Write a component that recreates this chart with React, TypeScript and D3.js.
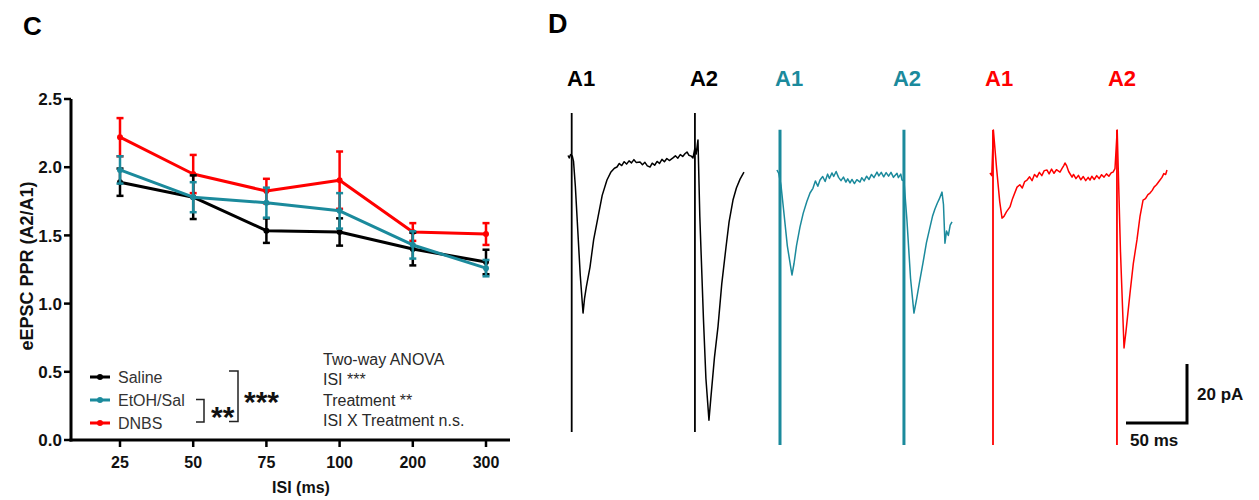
import React from "react";
import * as d3 from "d3";

// ---------- Panel C data ----------
const isiCategories = ["25", "50", "75", "100", "200", "300"];
const salineMean = [1.89, 1.78, 1.535, 1.525, 1.4, 1.305];
const salineSem = [0.1, 0.16, 0.09, 0.1, 0.12, 0.09];
const etohMean = [1.98, 1.78, 1.74, 1.68, 1.43, 1.26];
const etohSem = [0.1, 0.11, 0.11, 0.13, 0.1, 0.06];
const dnbsMean = [2.22, 1.95, 1.825, 1.905, 1.525, 1.51];
const dnbsSem = [0.14, 0.14, 0.09, 0.21, 0.065, 0.08];
const yTicks = [0, 0.5, 1.0, 1.5, 2.0, 2.5];
const groupNames = ["Saline", "EtOH/Sal", "DNBS"];
const anovaLines = ["Two-way ANOVA", "ISI ***", "Treatment **", "ISI X Treatment n.s."];

// ---------- Panel D data (t in ms from A1 stimulus, current in pA from baseline) ----------
const blackTrace: [number, number][] = [
  [-3, 0.5], [-2, -0.3], [-1, 0.8], [0.5, 0.3], [1.5, -1.5], [3, -10], [5, -25], [7, -40], [9.3, -52.9],
  [10.5, -48], [12, -44], [15, -37.3], [18, -28], [21.6, -20.3], [25, -13], [28.9, -7.8], [32, -5.2],
  [35, -3.8], [37.1, -3.4], [39, -2.2], [41, -2.9], [43, -1.6], [45, -2.4], [47, -1.3], [49, -2.0],
  [51, -0.9], [53, -1.9], [56, -1.7], [58, -2.6], [60, -1.8], [62, -3.0], [64.2, -3.4], [66, -2.1],
  [68, -2.8], [70, -1.5], [72, -2.2], [74, -0.8], [76, -1.6], [78, -0.5], [80, -1.2], [83, -0.3],
  [85, 0.4], [87, -0.4], [89, 0.8], [91, 0.2], [93, 1.2], [94.5, 1.7], [96, 0.6], [98, 0.3], [99.4, -0.3],
  [101, 3], [102, 1], [103.5, 5.8], [105, -20], [108, -55], [110, -75], [112.5, -89.2], [114, -82],
  [117, -68], [119.9, -57.6], [123, -43], [126.5, -30.5], [129, -22], [132.2, -14.6], [135, -10.5],
  [138, -7.5], [141.2, -5.1],
];
const tealTrace: [number, number][] = [
  [-2.5, 1.7], [-1, 0.5], [0.8, -3.4], [3, -12], [6, -24], [9.8, -33.9], [11.5, -30], [13.5, -24],
  [16.4, -17.6], [19, -13], [22, -9], [24.6, -6.1], [27, -4.5], [29, -2.0], [31, -3.8], [32.8, -1.7],
  [35, -0.5], [37, -2.2], [39, 0.3], [40.5, -1.2], [42.6, 0.7], [44, -0.5], [46, 1.2], [48, -0.8],
  [50, -1.9], [52, -0.7], [54, -2.4], [55.5, -1.3], [57.4, -2.7], [59, -1.5], [61, -2.9], [63, -1.6],
  [65.6, -2.4], [67, -0.9], [69, -2.0], [71, -0.4], [73, -1.5], [75, 0.2], [77, -0.9], [79.5, 1.0],
  [81, -0.3], [83, 0.9], [85, -0.6], [87, 0.8], [89, -0.4], [91, 0.9], [93, -0.8], [95.9, 0.6],
  [97, -0.9], [99, 0.3], [100, -1.7], [101.6, -2], [104, -15], [107, -35], [109.8, -46.8], [112, -42],
  [114.5, -36], [117.2, -29.8], [120, -23], [123, -17.6], [125, -14], [127, -11.5], [129, -9.5],
  [130.5, -8.2], [132.8, -5.8], [134, -10], [135.2, -23.1], [136.5, -19], [138, -20.5], [139.5, -17],
  [141, -15.9],
];
const redTrace: [number, number][] = [
  [-2.5, 1.7], [-1, 0.8], [0.3, 16.3], [3, 3], [5.5, -8], [7.4, -13.6], [9, -13], [11, -11.5],
  [13.9, -9.8], [16, -7], [19.7, -3.1], [22, -2.3], [24, -3.4], [26, -1.2], [27.9, -0.7], [30, 0.4],
  [32, -0.9], [34, 1.2], [36, 0.3], [38, 1.9], [40, 0.8], [42, 2.5], [44.3, 2.7], [46, 1.4], [48, 3.0],
  [50, 1.6], [52, 2.8], [54.9, 2.0], [56.5, 3.2], [58, 4.2], [59, 5.1], [60.5, 4.0], [62, 2.2],
  [64.8, 0.3], [66, 1.2], [68, -0.2], [70, 0.9], [72, -0.6], [74, 0.5], [76, -0.9], [78, 0.2],
  [79.5, -0.7], [81, 0.6], [83, -0.5], [85, 0.8], [87, -0.2], [89, 1.1], [91, 0.3], [93, 1.4],
  [95, 0.6], [97, 1.8], [98.4, 2.0], [100, 3.2], [101.8, 16.3], [104.5, -25], [107.4, -57.6],
  [109, -52], [112.3, -39], [115, -29], [118, -21], [120.5, -13], [123, -7.5], [125, -7.0], [127, -5.6],
  [128.7, -5.1], [130.5, -4.2], [132, -3.1], [134, -2.3], [136.9, -0.7], [138.5, 0.2], [140, 1.5],
  [141.5, 1.2], [142.6, 2.7],
];
const blackStims = [0, 101];
const tealStims = [0, 101.6];
const redStims = [0, 101.6];
const artifactRange = [
  [14.9, -93.2],
  [15.3, -91.5],
  [16.3, -90.5],
];
const stimLabels = ["A1", "A2"];
const scaleBarMs = 50;
const scaleBarPa = 20;

const TEAL = "#1b8a9c";
const RED = "#ff0000";
const FONT = "'Liberation Sans', Arial, sans-serif";

export default function App() {
  // Panel C scales
  const x = d3.scalePoint<string>().domain(isiCategories).range([120, 486]).padding(0);
  const y = d3.scaleLinear().domain([0, 2.5]).range([440, 99]);
  const axisX0 = 71;
  const axisX1 = 510;

  const groups = [
    { name: groupNames[2], mean: dnbsMean, sem: dnbsSem, color: RED },
    { name: groupNames[0], mean: salineMean, sem: salineSem, color: "#000" },
    { name: groupNames[1], mean: etohMean, sem: etohSem, color: TEAL },
  ];
  const legend = [
    { name: groupNames[0], color: "#000" },
    { name: groupNames[1], color: TEAL },
    { name: groupNames[2], color: RED },
  ];

  const line = d3
    .line<number>()
    .x((_, i) => x(isiCategories[i]) as number)
    .y((d) => y(d));

  // Panel D scales
  const tScale = d3.scaleLinear().domain([0, 50]).range([0, 61]);
  const iScale = d3.scaleLinear().domain([0, 20]).range([0, -59]);
  const traceLine = d3
    .line<[number, number]>()
    .x((d) => tScale(d[0]))
    .y((d) => iScale(d[1]));

  const traces = [
    { data: blackTrace, stims: blackStims, color: "#000", x0: 571.7, y0: 157, art: artifactRange[0], artW: 1.8, lab: [4.7, 5] },
    { data: tealTrace, stims: tealStims, color: TEAL, x0: 780, y0: 175, art: artifactRange[1], artW: 3, lab: [5, 11] },
    { data: redTrace, stims: redStims, color: RED, x0: 993, y0: 178, art: artifactRange[2], artW: 1.8, lab: [8, 9] },
  ];

  const sbX = 1187;
  const sbY = 423;

  return (
    <svg
      width={1259}
      height={500}
      style={{ position: "absolute", left: 0, top: 0, background: "#fff" }}
      fontFamily={FONT}
    >
      {/* Panel letters */}
      <text x={23} y={35} fontSize={26} fontWeight="bold" fill="#000">C</text>
      <text x={548} y={33} fontSize={27} fontWeight="bold" fill="#000">D</text>

      {/* Y axis */}
      <line x1={axisX0} x2={axisX0} y1={y(2.5)} y2={y(0) + 1.5} stroke="#000" strokeWidth={3} />
      {yTicks.map((t) => (
        <g key={t}>
          <line x1={axisX0 - 7} x2={axisX0} y1={y(t)} y2={y(t)} stroke="#000" strokeWidth={2.5} />
          <text x={62} y={y(t)} dy="0.36em" textAnchor="end" fontSize={17} fontWeight="bold" fill="#111">
            {t.toFixed(1)}
          </text>
        </g>
      ))}
      <text
        transform={`translate(33,266) rotate(-90)`}
        textAnchor="middle"
        fontSize={18}
        fontWeight="bold"
        fill="#111"
      >
        eEPSC PPR (A2/A1)
      </text>

      {/* X axis */}
      <line x1={axisX0 - 1.5} x2={axisX1} y1={y(0)} y2={y(0)} stroke="#000" strokeWidth={3} />
      {isiCategories.map((c) => (
        <g key={c}>
          <line x1={x(c)} x2={x(c)} y1={y(0)} y2={y(0) + 7} stroke="#000" strokeWidth={2.5} />
          <text x={x(c)} y={468} textAnchor="middle" fontSize={16} fontWeight="bold" fill="#111">
            {c}
          </text>
        </g>
      ))}
      <text x={301} y={493} textAnchor="middle" fontSize={16} fontWeight="bold" fill="#111">
        ISI (ms)
      </text>

      {/* Series */}
      {groups.map((g) => (
        <g key={g.name}>
          <path d={line(g.mean) || ""} fill="none" stroke={g.color} strokeWidth={3} strokeLinejoin="round" />
          {g.mean.map((m, i) => {
            const cx = x(isiCategories[i]) as number;
            const top = y(m + g.sem[i]);
            const bot = y(m - g.sem[i]);
            return (
              <g key={i}>
                <line x1={cx} x2={cx} y1={top} y2={bot} stroke={g.color} strokeWidth={2.5} />
                <line x1={cx - 3.5} x2={cx + 3.5} y1={top} y2={top} stroke={g.color} strokeWidth={2.5} />
                <line x1={cx - 3.5} x2={cx + 3.5} y1={bot} y2={bot} stroke={g.color} strokeWidth={2.5} />
                <circle cx={cx} cy={y(m)} r={3} fill={g.color} />
              </g>
            );
          })}
        </g>
      ))}

      {/* Legend */}
      {legend.map((l, i) => {
        const ly = 377 + i * 23;
        return (
          <g key={l.name}>
            <line x1={90} x2={110} y1={ly} y2={ly} stroke={l.color} strokeWidth={3} />
            <circle cx={100} cy={ly} r={3} fill={l.color} />
            <text x={118} y={ly} dy="0.36em" fontSize={16} fill="#333">
              {l.name}
            </text>
          </g>
        );
      })}

      {/* Significance brackets */}
      <path d="M196,399.5 H204 V422 H196" fill="none" stroke="#222" strokeWidth={1.5} />
      <path d="M229,371 H238 V421.5 H229" fill="none" stroke="#222" strokeWidth={1.5} />
      <text x={211} y={427} fontSize={30} fontWeight="bold" fill="#111">**</text>
      <text x={244} y={412} fontSize={30} fontWeight="bold" fill="#111">***</text>

      {/* ANOVA annotation */}
      {anovaLines.map((s, i) => (
        <text key={s} x={323} y={365 + i * 20.4} fontSize={16} fill="#2a2a2a">
          {s}
        </text>
      ))}

      {/* Panel D traces */}
      {traces.map((tr, k) => (
        <g key={k} transform={`translate(${tr.x0},${tr.y0})`}>
          {tr.stims.map((s, j) => (
            <g key={j}>
              <line
                x1={tScale(s)}
                x2={tScale(s)}
                y1={iScale(tr.art[0])}
                y2={iScale(tr.art[1])}
                stroke={tr.color}
                strokeWidth={tr.artW}
              />
              <text
                x={tScale(s) - tr.lab[j]}
                y={86 - tr.y0}
                fontSize={22}
                fontWeight="bold"
                fill={tr.color}
              >
                {stimLabels[j]}
              </text>
            </g>
          ))}
          <path d={traceLine(tr.data) || ""} fill="none" stroke={tr.color} strokeWidth={1.5} strokeLinejoin="round" />
        </g>
      ))}

      {/* Scale bar */}
      <g transform={`translate(${sbX},${sbY})`}>
        <path
          d={`M${tScale(-scaleBarMs)},0 H0 V${iScale(scaleBarPa)}`}
          fill="none"
          stroke="#000"
          strokeWidth={3}
        />
        <text x={10} y={iScale(scaleBarPa / 2)} dy="0.36em" fontSize={17} fontWeight="bold" fill="#111">
          {scaleBarPa} pA
        </text>
        <text x={tScale(-scaleBarMs) + 4} y={23} fontSize={17} fontWeight="bold" fill="#111">
          {scaleBarMs} ms
        </text>
      </g>
    </svg>
  );
}
